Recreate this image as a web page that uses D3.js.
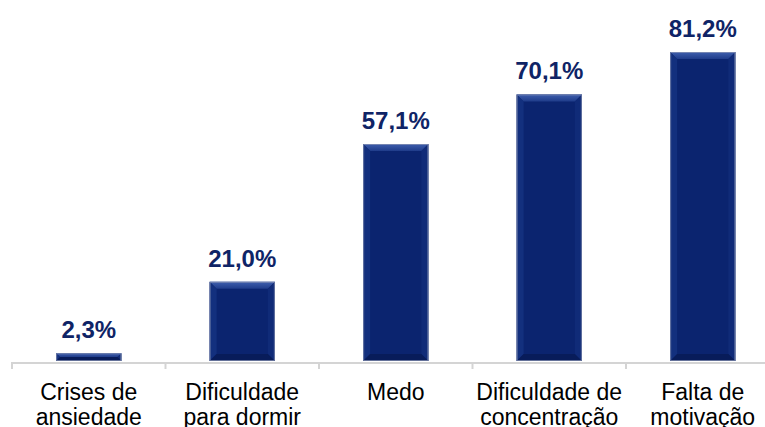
<!DOCTYPE html>
<html>
<head>
<meta charset="utf-8">
<script src="https://cdn.jsdelivr.net/npm/d3@7"></script>
<style>
  html, body { margin: 0; padding: 0; background: #ffffff; overflow: hidden; }
  svg { display: block; }
</style>
</head>
<body>
<svg id="chart" width="765" height="427"></svg>
<script>
// Sintomas relatados (percentual de respondentes)
const categories = [
  ["Crises de", "ansiedade"],
  ["Dificuldade", "para dormir"],
  ["Medo"],
  ["Dificuldade de", "concentração"],
  ["Falta de", "motivação"]
];
const values = [2.3, 21.0, 57.1, 70.1, 81.2];
const valueLabels = ["2,3%", "21,0%", "57,1%", "70,1%", "81,2%"];

const svg = d3.select("#chart");
const W = 765, H = 427;
const axisY = 362;
const left = 12, step = 153.5;

const x = d3.scaleBand()
  .domain(d3.range(categories.length))
  .range([left, left + step * categories.length])
  .paddingInner(0.575)
  .paddingOuter(0.2875);

const y = d3.scaleLinear()
  .domain([0, 81.2])
  .range([axisY, 52]);

const defs = svg.append("defs");
const topGrad = defs.append("linearGradient").attr("id", "bevTop").attr("x1", 0).attr("y1", 0).attr("x2", 0).attr("y2", 1);
topGrad.append("stop").attr("offset", "0%").attr("stop-color", "#3f5fae");
topGrad.append("stop").attr("offset", "100%").attr("stop-color", "#1f3c8a");

const g = svg.append("g");

// bars with bevelled edges
values.forEach((v, i) => {
  const x0 = x(i), w = x.bandwidth();
  const y0 = y(v), h = axisY - 1 - y0;
  const b = Math.min(7, h / 2, w / 2);
  const bar = g.append("g");
  bar.append("rect")
    .attr("x", x0).attr("y", y0).attr("width", w).attr("height", h)
    .attr("fill", "#0b246f");
  // top facet
  bar.append("path")
    .attr("d", `M${x0},${y0} L${x0 + w},${y0} L${x0 + w - b},${y0 + b} L${x0 + b},${y0 + b} Z`)
    .attr("fill", "url(#bevTop)");
  // left facet
  bar.append("path")
    .attr("d", `M${x0},${y0} L${x0 + b},${y0 + b} L${x0 + b},${y0 + h - b} L${x0},${y0 + h} Z`)
    .attr("fill", "#13307e");
  // right facet
  bar.append("path")
    .attr("d", `M${x0 + w},${y0} L${x0 + w - b},${y0 + b} L${x0 + w - b},${y0 + h - b} L${x0 + w},${y0 + h} Z`)
    .attr("fill", "#102b78");
  // bottom facet
  bar.append("path")
    .attr("d", `M${x0},${y0 + h} L${x0 + b},${y0 + h - b} L${x0 + w - b},${y0 + h - b} L${x0 + w},${y0 + h} Z`)
    .attr("fill", "#081c5a");
  bar.append("rect")
    .attr("x", x0 + 0.5).attr("y", y0 + 0.5).attr("width", w - 1).attr("height", h - 1)
    .attr("fill", "none").attr("stroke", "#8d97b5").attr("stroke-width", 1).attr("stroke-opacity", 0.7);
});

// value labels
g.selectAll("text.val")
  .data(values)
  .join("text")
  .attr("class", "val")
  .attr("x", (d, i) => x(i) + x.bandwidth() / 2)
  .attr("y", d => y(d) - 15)
  .attr("text-anchor", "middle")
  .attr("font-family", "Liberation Sans, Arial, sans-serif")
  .attr("font-weight", "bold")
  .attr("font-size", 24)
  .attr("fill", "#0f2466")
  .text((d, i) => valueLabels[i]);

// category axis
g.append("line")
  .attr("x1", left).attr("x2", W)
  .attr("y1", axisY + 1).attr("y2", axisY + 1)
  .attr("stroke", "#d4d4d4").attr("stroke-width", 2);

const tickXs = d3.range(categories.length).map(i => left + i * step);
g.selectAll("line.tick")
  .data(tickXs)
  .join("line")
  .attr("class", "tick")
  .attr("x1", d => d).attr("x2", d => d)
  .attr("y1", axisY).attr("y2", axisY + 7)
  .attr("stroke", "#d4d4d4").attr("stroke-width", 2);

// category labels (two lines each, in one text element)
const catText = g.selectAll("text.cat")
  .data(categories)
  .join("text")
  .attr("class", "cat")
  .attr("text-anchor", "middle")
  .attr("font-family", "Liberation Sans, Arial, sans-serif")
  .attr("font-size", 23)
  .attr("fill", "#000000");

catText.each(function(lines, i) {
  const t = d3.select(this);
  lines.forEach((ln, k) => {
    t.append("tspan")
      .attr("x", x(i) + x.bandwidth() / 2)
      .attr("y", 400 + k * 24.5)
      .text(ln);
  });
});
</script>
</body>
</html>
